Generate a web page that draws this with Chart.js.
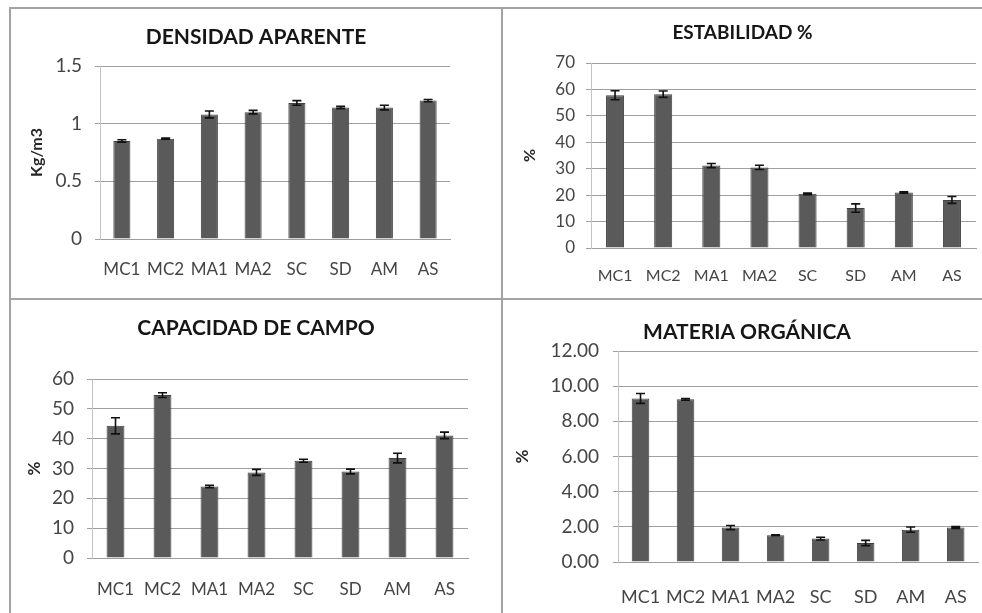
<!DOCTYPE html>
<html>
<head>
<meta charset="utf-8">
<script src="https://cdn.jsdelivr.net/npm/chart.js@4.4.1/dist/chart.umd.min.js"></script>
<style>
  html, body { margin: 0; padding: 0; background: #ffffff; }
  body { width: 982px; height: 613px; position: relative; overflow: hidden; }
  .panel { position: absolute; }
  .rule { position: absolute; background: #a3a3a3; }
</style>
</head>
<body>
<div class="rule" style="left:9px;top:7px;width:973px;height:2px"></div>
<div class="rule" style="left:9px;top:7px;width:2px;height:606px"></div>
<div class="rule" style="left:501px;top:7px;width:2px;height:606px"></div>
<div class="rule" style="left:9px;top:298px;width:973px;height:2px"></div>

<canvas id="c1" class="panel" style="left:11px;top:9px"></canvas>
<canvas id="c2" class="panel" style="left:503px;top:9px"></canvas>
<canvas id="c3" class="panel" style="left:11px;top:300px"></canvas>
<canvas id="c4" class="panel" style="left:503px;top:300px"></canvas>

<script>
// Soil samples
const categories = ['MC1', 'MC2', 'MA1', 'MA2', 'SC', 'SD', 'AM', 'AS'];

// Bulk density (Kg/m3) and its error
const densidad    = [0.85, 0.87, 1.08, 1.10, 1.18, 1.14, 1.14, 1.20];
const densidadErr = [0.01, 0.005, 0.03, 0.015, 0.02, 0.01, 0.02, 0.01];

// Aggregate stability (%)
const estabilidad    = [57.8, 58.2, 31.2, 30.5, 20.5, 15.1, 21.0, 18.2];
const estabilidadErr = [1.7, 1.2, 0.8, 0.8, 0.3, 1.6, 0.3, 1.3];

// Field capacity (%)
const capacidad    = [44.3, 54.6, 24.0, 28.7, 32.6, 29.0, 33.5, 41.1];
const capacidadErr = [2.7, 0.8, 0.4, 1.0, 0.5, 0.8, 1.6, 1.1];

// Organic matter (%)
const materia    = [9.30, 9.25, 1.96, 1.52, 1.33, 1.08, 1.84, 1.96];
const materiaErr = [0.28, 0.05, 0.12, 0.03, 0.08, 0.15, 0.15, 0.05];

// Y axis ranges
const densidadTicks    = { max: 1.5, step: 0.5 };
const estabilidadTicks = { max: 70, step: 10 };
const capacidadTicks   = { max: 60, step: 10 };
const materiaTicks     = { max: 12, step: 2 };

const FONT = 'Lato, "Liberation Sans", sans-serif';

// Draws a +/- error whisker on top of each bar
const errorBars = {
  id: 'errorBars',
  afterDatasetsDraw(chart) {
    const { ctx } = chart;
    const y = chart.scales.y;
    chart.data.datasets.forEach((ds, di) => {
      const meta = chart.getDatasetMeta(di);
      meta.data.forEach((bar, i) => {
        const v = ds.data[i], e = ds.errors[i];
        const top = y.getPixelForValue(v + e);
        const bot = y.getPixelForValue(v - e);
        ctx.save();
        ctx.strokeStyle = '#111111';
        ctx.lineWidth = 1.6;
        ctx.beginPath();
        ctx.moveTo(bar.x, top); ctx.lineTo(bar.x, bot);
        ctx.moveTo(bar.x - 4.5, top); ctx.lineTo(bar.x + 4.5, top);
        ctx.moveTo(bar.x - 4.5, bot); ctx.lineTo(bar.x + 4.5, bot);
        ctx.stroke();
        ctx.restore();
      });
    });
  }
};

function makePanel(id, cfg) {
  const canvas = document.getElementById(id);
  canvas.width = cfg.w; canvas.height = cfg.h;
  canvas.style.width = cfg.w + 'px'; canvas.style.height = cfg.h + 'px';
  const lh = cfg.titleSize * 1.2;
  const yLh = cfg.yTitleSize * 1.2;
  return new Chart(canvas, {
    type: 'bar',
    data: {
      labels: categories,
      datasets: [{
        data: cfg.values,
        errors: cfg.errors,
        backgroundColor: '#5a5a5a',
        borderColor: '#414141',
        borderWidth: 1,
        categoryPercentage: 1,
        barPercentage: cfg.barPct
      }]
    },
    options: {
      responsive: false,
      animation: false,
      events: [],
      layout: { padding: 0 },
      plugins: {
        legend: { display: false },
        tooltip: { enabled: false },
        title: {
          display: true,
          text: cfg.title,
          color: '#161616',
          font: { family: FONT, size: cfg.titleSize, weight: 'bold', lineHeight: 1.2 },
          padding: { top: cfg.titleY - lh / 2, bottom: cfg.area.top - cfg.titleY - lh / 2 }
        }
      },
      scales: {
        x: {
          grid: { display: false, drawTicks: false },
          border: { display: true, color: '#9c9c9c', width: 1 },
          ticks: {
            color: '#454545',
            autoSkip: false,
            maxRotation: 0,
            padding: cfg.xLabelGap - cfg.xSize * 0.6,
            font: { family: FONT, size: cfg.xSize }
          },
          afterFit(s) { s.height = cfg.h - cfg.area.bottom; }
        },
        y: {
          min: 0,
          max: cfg.ticks.max,
          grid: { color: '#a0a0a0', lineWidth: 1, drawTicks: true, tickLength: 5 },
          border: { display: true, color: '#c4c4c4', width: 1 },
          ticks: {
            stepSize: cfg.ticks.step,
            color: '#454545',
            padding: cfg.yTickGap,
            font: { family: FONT, size: cfg.ySize },
            callback: cfg.fmt
          },
          title: {
            display: true,
            text: cfg.yTitle,
            color: '#262626',
            font: { family: FONT, size: cfg.yTitleSize, weight: 'bold', lineHeight: 1.2 },
            padding: { top: cfg.yTitleX - yLh / 2, bottom: 0 }
          },
          afterFit(s) { s.width = cfg.area.left; }
        },
        // empty right-hand margin so the title stays centred on the whole panel
        margin: {
          type: 'linear',
          position: 'right',
          display: true,
          grid: { display: false, drawTicks: false },
          border: { display: false },
          ticks: { display: false },
          afterFit(s) { s.width = cfg.w - cfg.area.right; }
        }
      }
    },
    plugins: [errorBars]
  });
}

makePanel('c1', {
  w: 490, h: 289, title: 'DENSIDAD APARENTE', titleSize: 21, titleY: 28,
  area: { left: 89, right: 439, top: 57, bottom: 230 },
  values: densidad, errors: densidadErr, ticks: densidadTicks,
  fmt: v => String(v), yTitle: 'Kg/m3', yTitleSize: 16, yTitleX: 26,
  xSize: 17, xLabelGap: 31, ySize: 19, yTickGap: 13, barPct: 0.39
});

makePanel('c2', {
  w: 479, h: 289, title: 'ESTABILIDAD %', titleSize: 19, titleY: 24,
  area: { left: 88, right: 473, top: 54, bottom: 239 },
  values: estabilidad, errors: estabilidadErr, ticks: estabilidadTicks,
  fmt: v => String(v), yTitle: '%', yTitleSize: 16, yTitleX: 27,
  xSize: 16, xLabelGap: 28, ySize: 17, yTickGap: 11, barPct: 0.375
});

makePanel('c3', {
  w: 490, h: 313, title: 'CAPACIDAD DE CAMPO', titleSize: 21, titleY: 28,
  area: { left: 81, right: 457, top: 79, bottom: 258 },
  values: capacidad, errors: capacidadErr, ticks: capacidadTicks,
  fmt: v => String(v), yTitle: '%', yTitleSize: 17, yTitleX: 24,
  xSize: 17, xLabelGap: 32, ySize: 19, yTickGap: 13, barPct: 0.38
});

makePanel('c4', {
  w: 488, h: 313, title: 'MATERIA ORGÁNICA', titleSize: 21, titleY: 32,
  area: { left: 115, right: 486, top: 51, bottom: 262 },
  values: materia, errors: materiaErr, ticks: materiaTicks,
  fmt: v => v.toFixed(2), yTitle: '%', yTitleSize: 17, yTitleX: 20,
  xSize: 18, xLabelGap: 35, ySize: 19, yTickGap: 14, barPct: 0.39
});
</script>
</body>
</html>
